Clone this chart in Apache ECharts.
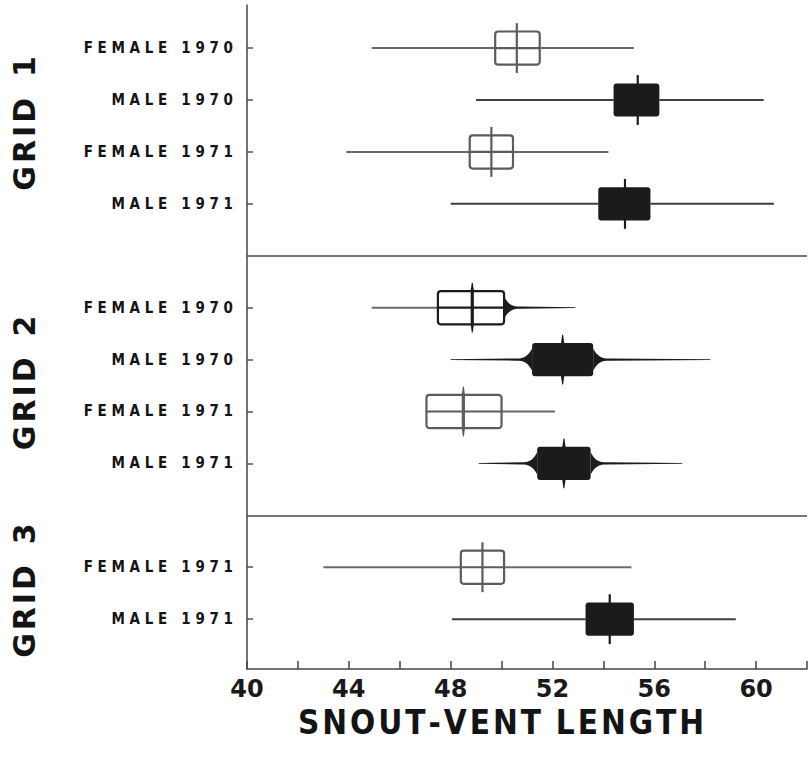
<!DOCTYPE html>
<html>
<head>
<meta charset="utf-8">
<script src="https://cdn.jsdelivr.net/npm/echarts@6/dist/echarts.min.js"></script>
<style>
  html, body { margin: 0; padding: 0; background: #fff; }
  #chart { width: 810px; height: 762px; }
</style>
</head>
<body>
<div id="chart"></div>
<script>
// rows, top to bottom (row 4 and 9 are the gaps between grids)
const rowLabels = ['FEMALE 1970', 'MALE 1970', 'FEMALE 1971', 'MALE 1971',
                   'FEMALE 1970', 'MALE 1970', 'FEMALE 1971', 'MALE 1971',
                   'FEMALE 1971', 'MALE 1971'];
const rowPos   = [0, 1, 2, 3, 5, 6, 7, 8, 10, 11];
const sexes    = ['F', 'M', 'F', 'M', 'F', 'M', 'F', 'M', 'F', 'M'];

// snout-vent length: range, box (mean +- 2 SE) and mean
const rangeMin = [44.9, 49.0, 43.9, 48.0, 44.9, 48.0, 47.05, 49.1, 43.0, 48.05];
const boxLow   = [49.75, 54.4, 48.75, 53.8, 47.5, 51.2, 47.05, 51.4, 48.4, 53.3];
const means    = [50.6, 55.35, 49.6, 54.85, 48.85, 52.4, 48.5, 52.45, 49.25, 54.25];
const boxHigh  = [51.5, 56.2, 50.45, 55.85, 50.1, 53.6, 50.0, 53.5, 50.1, 55.2];
const rangeMax = [55.2, 60.3, 54.2, 60.7, 52.9, 58.2, 52.1, 57.1, 55.1, 59.2];

const gridNames   = ['GRID 1', 'GRID 2', 'GRID 3'];
const gridCenters = [1.45, 6.45, 10.45];
const separators  = [4, 9];
const xLabels     = [40, 44, 48, 52, 56, 60];

const GRAY = '#5c5c5c';
const DARK = '#1b1b1b';

function spaced(s, sep) {
  return s.split('').join(sep);
}

function findIdx(arr, v) {
  return arr.findIndex(a => Math.abs(a - v) < 1e-6);
}

// plain line, or (grid 2) thin line that flares out where it meets the box
function whisker(x0, x1, y, flare, color, boxH) {
  if (Math.abs(x1 - x0) < 1) return null;
  if (!flare) {
    return {
      type: 'line',
      shape: { x1: x0, y1: y, x2: x1, y2: y },
      style: { stroke: color, lineWidth: 2 }
    };
  }
  const dir = x1 > x0 ? 1 : -1;
  const len = Math.min(16, Math.abs(x1 - x0) * 0.5);
  const top = [[x0, y - 0.4]];
  const bot = [];
  const steps = 10;
  for (let s = 0; s <= steps; s++) {
    const t = s / steps;            // 0 at flare start, 1 at box
    const x = x1 - dir * len * (1 - t);
    const h = 1.1 + boxH * 0.6 * Math.pow(t, 3);
    top.push([x, y - h]);
    bot.unshift([x, y + h]);
  }
  bot.push([x0, y + 0.4]);
  return {
    type: 'polygon',
    shape: { points: top.concat(bot) },
    style: { fill: color }
  };
}

function renderItem(params, api) {
  const i = params.dataIndex;
  const pos = api.value(0);
  const pMin = api.coord([api.value(1), pos]);
  const pLo = api.coord([api.value(2), pos]);
  const pMean = api.coord([api.value(3), pos]);
  const pHi = api.coord([api.value(4), pos]);
  const pMax = api.coord([api.value(5), pos]);
  const unit = api.size([0, 1])[1];
  const y = pMean[1];
  const male = sexes[i] === 'M';
  const grid2 = pos > 4 && pos < 9;
  const boxH = unit * 0.32;
  const meanH = unit * 0.48;

  const boxInk = male || (grid2 && pos === 5) ? DARK : GRAY;
  const leftInk = male ? (grid2 ? DARK : '#3e3e3e') : '#6a6a6a';
  const rightInk = male ? (grid2 ? DARK : '#3e3e3e') : (grid2 && pos === 5 ? DARK : '#6a6a6a');
  const leftFlare = grid2 && male;
  const rightFlare = grid2 && (male || pos === 5);

  const children = [];
  const wl = whisker(pMin[0], pLo[0], y, leftFlare, leftInk, boxH);
  const wr = whisker(pMax[0], pHi[0], y, rightFlare, rightInk, boxH);
  if (wl) children.push(wl);
  if (wr) children.push(wr);

  children.push({
    type: 'rect',
    shape: { x: pLo[0], y: y - boxH, width: pHi[0] - pLo[0], height: boxH * 2, r: 3 },
    style: male ? { fill: DARK } : { fill: '#fff', stroke: boxInk, lineWidth: 2.2 }
  });
  if (!male) {
    children.push({
      type: 'line',
      shape: { x1: pLo[0], y1: y, x2: pHi[0], y2: y },
      style: { stroke: boxInk, lineWidth: 2.2 }
    });
  }
  if (grid2) {
    // pointed mean mark above and below the box
    children.push({
      type: 'polygon',
      shape: {
        points: [[pMean[0] - 0.5, y - meanH], [pMean[0] + 0.5, y - meanH],
                 [pMean[0] + 1.6, y - boxH], [pMean[0] + 1.6, y + boxH],
                 [pMean[0] + 0.5, y + meanH], [pMean[0] - 0.5, y + meanH],
                 [pMean[0] - 1.6, y + boxH], [pMean[0] - 1.6, y - boxH]]
      },
      style: { fill: boxInk }
    });
  } else {
    children.push({
      type: 'line',
      shape: { x1: pMean[0], y1: y - meanH, x2: pMean[0], y2: y + meanH },
      style: { stroke: boxInk, lineWidth: 2.2 }
    });
  }
  return { type: 'group', children };
}

const chart = echarts.init(document.getElementById('chart'), null, { renderer: 'svg' });

const option = {
  backgroundColor: '#fff',
  animation: false,
  grid: { left: 247, right: 2, top: 5, bottom: 93 },
  xAxis: {
    type: 'value',
    min: 40,
    max: 62,
    interval: 2,
    name: spaced('SNOUT-VENT', '\u200A') + '\u2002' + spaced('LENGTH', '\u200A'),
    nameLocation: 'middle',
    nameGap: 20,
    nameTextStyle: {
      fontFamily: 'DejaVu Sans Condensed, DejaVu Sans',
      fontWeight: 'bold',
      fontSize: 33,
      color: '#141414',
      padding: [0, 52, 0, 0]
    },
    axisLine: { show: true, onZero: false, lineStyle: { color: '#444', width: 1.5 } },
    axisTick: { show: true, inside: true, length: 8, lineStyle: { color: '#444', width: 1.5 } },
    splitLine: { show: false },
    axisLabel: {
      margin: 8,
      fontFamily: 'DejaVu Sans',
      fontWeight: 'bold',
      fontSize: 24,
      color: '#1a1a1a',
      formatter: v => (xLabels.includes(v) ? String(v) : '')
    }
  },
  yAxis: [
    {
      type: 'value',
      min: -0.83,
      max: 11.96,
      inverse: true,
      axisLine: { show: true, onZero: false, lineStyle: { color: '#444', width: 1.5 } },
      axisTick: {
        show: true, inside: true, length: 6, customValues: rowPos,
        lineStyle: { color: '#555', width: 1.5 }
      },
      splitLine: { show: false },
      axisLabel: {
        customValues: rowPos,
        margin: 14,
        fontFamily: 'DejaVu Sans Condensed, DejaVu Sans',
        fontWeight: 'bold',
        fontSize: 15,
        color: '#141414',
        formatter: v => {
          const i = findIdx(rowPos, v);
          return i < 0 ? '' : spaced(rowLabels[i], ' ');
        }
      }
    },
    {
      type: 'value',
      min: -0.83,
      max: 11.96,
      inverse: true,
      position: 'left',
      offset: 208,
      axisLine: { show: false },
      axisTick: { show: false },
      splitLine: { show: false },
      axisLabel: {
        customValues: gridCenters,
        rotate: 90,
        margin: 0,
        fontFamily: 'DejaVu Sans',
        fontWeight: 'bold',
        fontSize: 30,
        color: '#141414',
        formatter: v => {
          const i = findIdx(gridCenters, v);
          return i < 0 ? '' : spaced('GRID', '\u200A') + '  ' + gridNames[i].slice(-1);
        }
      }
    }
  ],
  series: [
    {
      type: 'custom',
      renderItem,
      encode: { x: [1, 2, 3, 4, 5], y: 0 },
      data: rowPos.map((p, i) => [p, rangeMin[i], boxLow[i], means[i], boxHigh[i], rangeMax[i]]),
      z: 3
    },
    {
      type: 'line',
      data: [],
      markLine: {
        silent: true,
        symbol: 'none',
        label: { show: false },
        lineStyle: { color: '#4a4a4a', width: 1.5, type: 'solid' },
        data: separators.map(v => ({ yAxis: v }))
      }
    }
  ]
};

chart.setOption(option);
</script>
</body>
</html>
